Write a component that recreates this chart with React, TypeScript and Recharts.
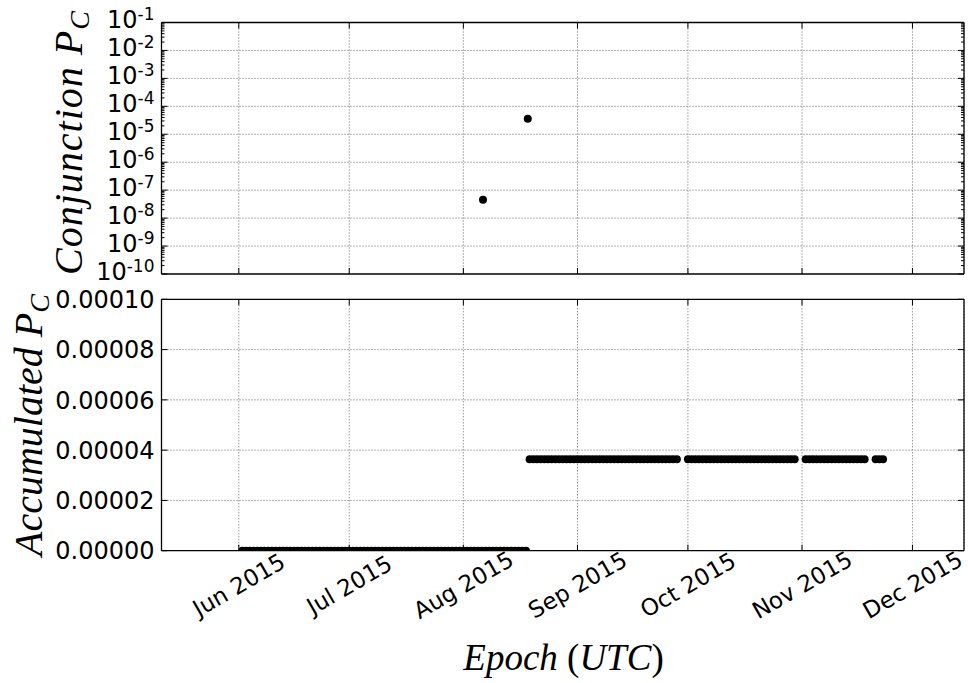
import React from 'react';
import { ScatterChart, Scatter, XAxis, YAxis, CartesianGrid, ReferenceLine } from 'recharts';

// x axis: epoch range and month ticks
const epochStart = '2015-05-11';
const epochEnd = '2015-12-15';
const monthTickDates = ['2015-06-01', '2015-07-01', '2015-08-01', '2015-09-01', '2015-10-01', '2015-11-01', '2015-12-01'];
const monthTickLabels = ['Jun 2015', 'Jul 2015', 'Aug 2015', 'Sep 2015', 'Oct 2015', 'Nov 2015', 'Dec 2015'];

// top panel: conjunction Pc
const conjunctionEpochs = ['2015-08-06T08:00:00Z', '2015-08-18T12:00:00Z'];
const conjunctionPc = [4.5e-8, 3.63e-5];
const logTicks = [1e-10, 1e-9, 1e-8, 1e-7, 1e-6, 1e-5, 1e-4, 1e-3, 1e-2, 1e-1];
const logTickExponents = ['-10', '-9', '-8', '-7', '-6', '-5', '-4', '-3', '-2', '-1'];

// bottom panel: accumulated Pc, evaluation days per month
const zeroJunDays = [2, 3, 4, 5, 6, 7, 8, 9, 10, 11, 12, 13, 14, 15, 16, 17, 18, 19, 20, 21, 22, 23, 24, 25, 26, 27, 28, 29, 30];
const zeroJulDays = [1, 2, 3, 4, 5, 6, 7, 8, 9, 10, 11, 12, 13, 14, 15, 16, 17, 18, 19, 20, 21, 22, 23, 24, 25, 26, 27, 28, 29, 30, 31];
const zeroAugDays = [1, 2, 3, 4, 5, 6, 7, 8, 9, 10, 11, 12, 13, 14, 15, 16, 17, 18];
const highAugDays = [19, 20, 21, 22, 23, 24, 25, 26, 27, 28, 29, 30, 31];
const highSepDays = [1, 2, 3, 4, 5, 6, 7, 8, 9, 10, 11, 12, 13, 14, 15, 16, 17, 18, 19, 20, 21, 22, 23, 24, 25, 26, 27, 28];
const highOctDays = [1, 2, 3, 4, 5, 6, 7, 8, 9, 10, 11, 12, 13, 14, 15, 16, 17, 18, 19, 20, 21, 22, 23, 24, 25, 26, 27, 28, 29, 30];
const highNovDays = [2, 3, 4, 5, 6, 7, 8, 9, 10, 11, 12, 13, 14, 15, 16, 17, 18, 21, 22, 23];
const zeroLevel = 0;
const highLevel = 3.64e-5;
const accumulatedTicks = [0, 0.00002, 0.00004, 0.00006, 0.00008, 0.0001];
const accumulatedTickLabels = ['0.00000', '0.00002', '0.00004', '0.00006', '0.00008', '0.00010'];

const ts = (s: string) => Date.parse(s.length === 10 ? s + 'T00:00:00Z' : s);
const day = (month: number, d: number) => Date.UTC(2015, month - 1, d);

const xDomain = [ts(epochStart), ts(epochEnd)];
const monthTicks = monthTickDates.map(ts);

const conjunctionData = conjunctionEpochs.map((e, i) => ({ t: ts(e), pc: conjunctionPc[i] }));

const accumulatedData = [
  ...zeroJunDays.map((d) => ({ t: day(6, d), pc: zeroLevel })),
  ...zeroJulDays.map((d) => ({ t: day(7, d), pc: zeroLevel })),
  ...zeroAugDays.map((d) => ({ t: day(8, d), pc: zeroLevel })),
  ...highAugDays.map((d) => ({ t: day(8, d), pc: highLevel })),
  ...highSepDays.map((d) => ({ t: day(9, d), pc: highLevel })),
  ...highOctDays.map((d) => ({ t: day(10, d), pc: highLevel })),
  ...highNovDays.map((d) => ({ t: day(11, d), pc: highLevel })),
];

// minor log ticks 2..9 in each decade
const minorLogTicks: number[] = [];
logTicks.slice(0, -1).forEach((v) => {
  for (let k = 2; k <= 9; k++) minorLogTicks.push(v * k);
});
const allLogTicks = [...logTicks, ...minorLogTicks].sort((a, b) => a - b);

const SANS = "'DejaVu Sans', sans-serif";
const SERIF = "'Liberation Serif', 'DejaVu Serif', serif";
const AXIS = { stroke: '#000', strokeWidth: 1.3 };
const GRID = { stroke: '#666', strokeDasharray: '1 2', strokeWidth: 1 };

const decadeIndex = (v: number) => logTicks.findIndex((t) => Math.abs(t - v) / t < 1e-6);

const Dot = (p: any) => <circle cx={p.cx} cy={p.cy} r={4} fill="#000" />;

// ticks point inward, like the classic matplotlib style
const XTickInner = ({ x, y, dir }: any) => <line x1={x} x2={x} y1={y} y2={y + dir * 6} stroke="#000" />;

const XTickLabeled = ({ x, y, payload }: any) => {
  const idx = monthTicks.indexOf(payload.value);
  const cy = y + 34;
  return (
    <g>
      <line x1={x} x2={x} y1={y} y2={y - 6} stroke="#000" />
      <text
        x={x}
        y={cy}
        dy="0.36em"
        textAnchor="middle"
        transform={`rotate(-30, ${x}, ${cy})`}
        fontFamily={SANS}
        fontSize={23}
        fill="#000"
      >
        {monthTickLabels[idx]}
      </text>
    </g>
  );
};

const LogTickLeft = ({ x, y, payload }: any) => {
  const idx = decadeIndex(payload.value);
  const major = idx >= 0;
  return (
    <g>
      <line x1={x} x2={x + (major ? 6 : 3)} y1={y} y2={y} stroke="#000" />
      {major && (
        <text x={x - 7} y={y + 5.5} textAnchor="end" fontFamily={SANS} fontSize={24} fill="#000">
          10
          <tspan fontSize={17} dy={-8}>
            {logTickExponents[idx]}
          </tspan>
        </text>
      )}
    </g>
  );
};

const LogTickRight = ({ x, y, payload }: any) => {
  const major = decadeIndex(payload.value) >= 0;
  return <line x1={x} x2={x - (major ? 6 : 3)} y1={y} y2={y} stroke="#000" />;
};

const LinTickLeft = ({ x, y, payload }: any) => {
  const idx = accumulatedTicks.indexOf(payload.value);
  return (
    <g>
      <line x1={x} x2={x + 6} y1={y} y2={y} stroke="#000" />
      <text x={x - 7} y={y} dy="0.36em" textAnchor="end" fontFamily={SANS} fontSize={24} fill="#000">
        {accumulatedTickLabels[idx]}
      </text>
    </g>
  );
};

const LinTickRight = ({ x, y }: any) => <line x1={x} x2={x - 6} y1={y} y2={y} stroke="#000" />;

const AxisTitle = ({ tx, ty, main, sub, spacing }: any) => (
  <text
    x={tx}
    y={ty}
    textAnchor="middle"
    transform={`rotate(-90, ${tx}, ${ty})`}
    fontFamily={SERIF}
    fontStyle="italic"
    fontSize={40}
    letterSpacing={spacing}
    fill="#000"
  >
    {main}
    <tspan fontSize={28} dy={7}>
      {sub}
    </tspan>
  </text>
);

const EpochTitle = ({ tx, ty }: any) => (
  <text x={tx} y={ty} textAnchor="middle" fontFamily={SERIF} fontSize={37} fill="#000">
    <tspan fontStyle="italic">Epoch </tspan>
    <tspan>(</tspan>
    <tspan fontStyle="italic">UTC</tspan>
    <tspan>)</tspan>
  </text>
);

const xAxisCommon = {
  dataKey: 't',
  type: 'number' as const,
  domain: xDomain,
  ticks: monthTicks,
  allowDataOverflow: true,
  interval: 0,
  height: 1,
  tickSize: 0,
  tickMargin: 0,
  tickLine: false,
  axisLine: AXIS,
};

export default function App() {
  return (
    <div style={{ position: 'absolute', left: 0, top: 0, width: 968, height: 683, background: '#fff' }}>
      <div style={{ position: 'absolute', left: 0, top: 0 }}>
        <ScatterChart width={968} height={290} margin={{ top: 21.5, right: 3, bottom: 15, left: 0 }}>
          <CartesianGrid horizontal={false} {...GRID} />
          <XAxis {...xAxisCommon} tick={<XTickInner dir={-1} />} />
          <XAxis {...xAxisCommon} xAxisId="top" orientation="top" tick={<XTickInner dir={1} />} />
          <YAxis
            dataKey="pc"
            type="number"
            scale="log"
            domain={[1e-10, 1e-1]}
            ticks={allLogTicks}
            allowDataOverflow
            interval={0}
            width={161.5}
            tickSize={0}
            tickMargin={0}
            tickLine={false}
            axisLine={AXIS}
            tick={<LogTickLeft />}
            label={<AxisTitle tx={82} ty={142.5} main="Conjunction P" sub="C" spacing={1} />}
          />
          <YAxis
            yAxisId="right"
            orientation="right"
            dataKey="pc"
            type="number"
            scale="log"
            domain={[1e-10, 1e-1]}
            ticks={allLogTicks}
            allowDataOverflow
            interval={0}
            width={1}
            tickSize={0}
            tickMargin={0}
            tickLine={false}
            axisLine={AXIS}
            tick={<LogTickRight />}
          />
          {logTicks.slice(1, -1).map((v) => (
            <ReferenceLine key={v} y={v} {...GRID} />
          ))}
          <Scatter data={conjunctionData} fill="#000" shape={Dot} isAnimationActive={false} />
        </ScatterChart>
      </div>
      <div style={{ position: 'absolute', left: 0, top: 280 }}>
        <ScatterChart width={968} height={403} margin={{ top: 18.3, right: 3, bottom: 131.3, left: 0 }}>
          <CartesianGrid horizontal={false} {...GRID} />
          <XAxis {...xAxisCommon} tick={<XTickLabeled />} label={<EpochTitle tx={563.5} ty={390} />} />
          <XAxis {...xAxisCommon} xAxisId="top" orientation="top" tick={<XTickInner dir={1} />} />
          <YAxis
            dataKey="pc"
            type="number"
            domain={[0, 0.0001]}
            ticks={accumulatedTicks}
            allowDataOverflow
            interval={0}
            width={161.5}
            tickSize={0}
            tickMargin={0}
            tickLine={false}
            axisLine={AXIS}
            tick={<LinTickLeft />}
            label={<AxisTitle tx={42} ty={145} main="Accumulated P" sub="C" spacing={0} />}
          />
          <YAxis
            yAxisId="right"
            orientation="right"
            dataKey="pc"
            type="number"
            domain={[0, 0.0001]}
            ticks={accumulatedTicks}
            allowDataOverflow
            interval={0}
            width={1}
            tickSize={0}
            tickMargin={0}
            tickLine={false}
            axisLine={AXIS}
            tick={<LinTickRight />}
          />
          {accumulatedTicks.slice(1, -1).map((v) => (
            <ReferenceLine key={v} y={v} {...GRID} />
          ))}
          <Scatter data={accumulatedData} fill="#000" shape={Dot} isAnimationActive={false} />
        </ScatterChart>
      </div>
    </div>
  );
}
